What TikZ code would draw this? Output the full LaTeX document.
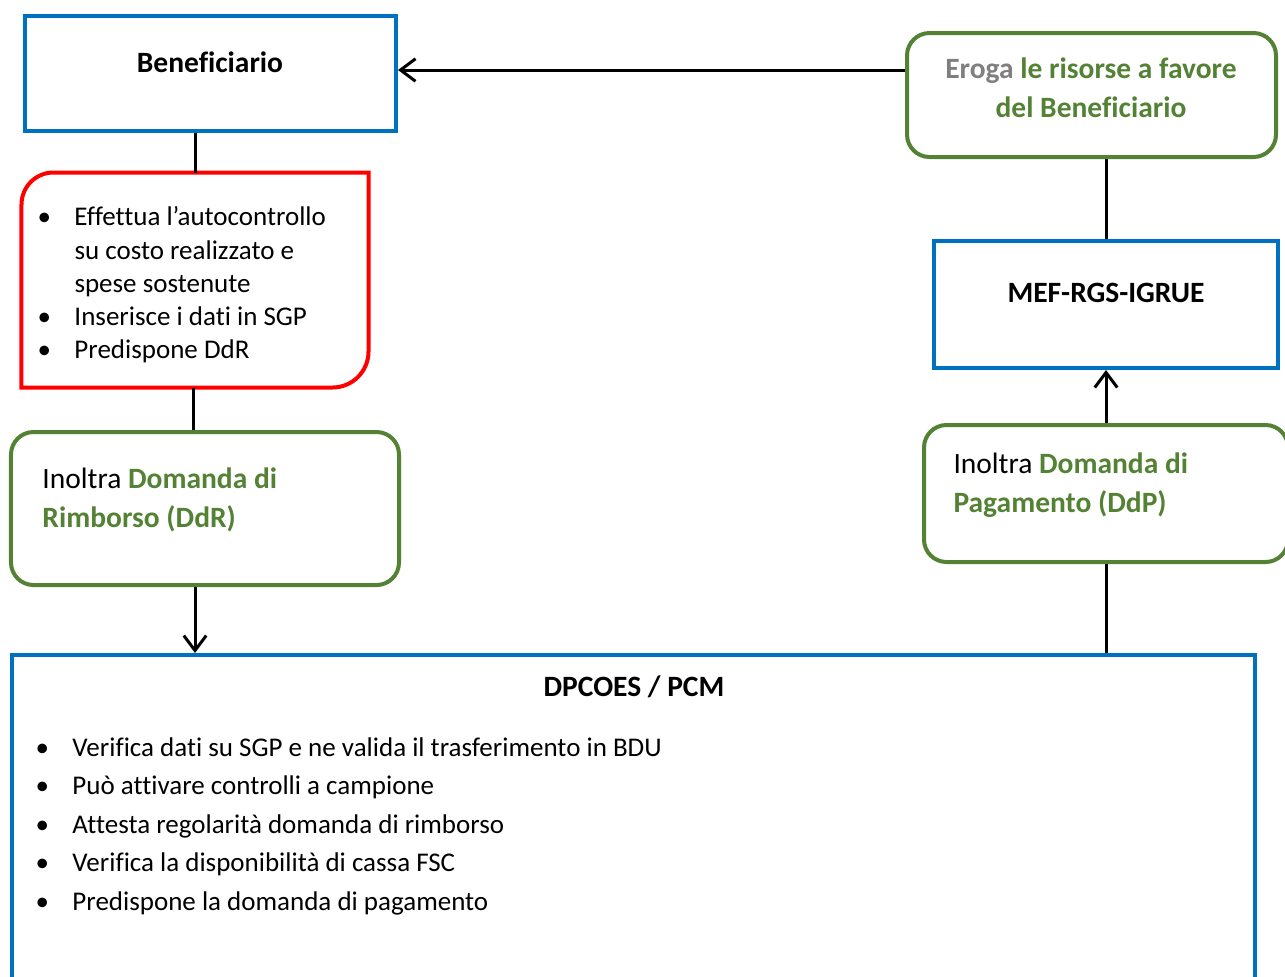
\documentclass[tikz,border=0pt]{standalone}
\usepackage{fontspec}
\setmainfont{Carlito}[Ligatures=CommonOff]
\usetikzlibrary{arrows.meta,calc}
\definecolor{bblue}{HTML}{0070C0}
\definecolor{bgreen}{HTML}{548235}
\definecolor{bred}{HTML}{FF0000}
\definecolor{bgray}{HTML}{7F7F7F}
\newcommand\bitem[2]{\makebox[#1][l]{\textbullet}#2}
\begin{document}
\begin{tikzpicture}[x=0.4pt,y=-0.4pt,
  bluebox/.style={draw=bblue, line width=1.6pt, inner sep=0pt},
  greenbox/.style={draw=bgreen, line width=1.6pt, rounded corners=9pt, inner sep=0pt},
  plain/.style={inner sep=0pt, font=\fontsize{10.8}{13.3}\selectfont},
  big/.style={inner sep=0pt, font=\fontsize{11.8}{15.4}\selectfont},
  title/.style={inner sep=0pt, font=\fontsize{11.8}{14}\selectfont\bfseries},
  conn/.style={line width=1.2pt, black},
  arr/.style={conn, -{Straight Barb[length=6pt,width=9pt,line width=1.2pt]}}
]
\useasboundingbox (0,0) rectangle (1285,976);
\clip (0,0) rectangle (1285,976);

% boxes
\node[bluebox, minimum width=148.4pt, minimum height=46pt] (benef) at (210.5,73.5) {};
\node[greenbox, minimum width=147.6pt, minimum height=49.6pt] (eroga) at (1091.5,95) {};
\node[inner sep=0pt, minimum width=138.4pt, minimum height=85.6pt] (ctrl) at (195,280) {};
\draw[bred, line width=1.6pt]
  (ctrl.south west) -- ($(ctrl.north west)+(0,32)$)
  .. controls +(0,-17.7) and +(-17.7,0) .. ($(ctrl.north west)+(32,0)$)
  -- (ctrl.north east) -- ($(ctrl.south east)+(0,-36)$)
  .. controls +(0,19.9) and +(19.9,0) .. ($(ctrl.south east)+(-36,0)$)
  -- cycle;
\node[greenbox, minimum width=155.2pt, minimum height=61.2pt] (ddr) at (205,508.5) {};
\node[bluebox, minimum width=497.2pt, minimum height=178pt] (dpc) at (633.5,877.5) {};
\node[greenbox, minimum width=145.6pt, minimum height=54.8pt] (ddp) at (1106,493.5) {};
\node[bluebox, minimum width=137.6pt, minimum height=50.8pt] (mef) at (1106,304.5) {};

% texts
\node[title] (tbenef) at (210,62) {Beneficiario};
\node[big, align=center, font=\fontsize{11.8}{15.6}\selectfont\bfseries] (teroga) at (1091,88)
  {\textcolor{bgray}{Eroga} \textcolor{bgreen}{le risorse a favore}\\ \textcolor{bgreen}{del Beneficiario}};
\node[plain, anchor=west, align=left] (tctrl) at (37,285)
  {\bitem{14.8pt}{Effettua l’autocontrollo}\\
   \hspace*{14.8pt}su costo realizzato e\\
   \hspace*{14.8pt}spese sostenute\\
   \bitem{14.8pt}{Inserisce i dati in SGP}\\
   \bitem{14.8pt}{Predispone DdR}};
\node[big, anchor=west, align=left] (tddr) at (42,500)
  {Inoltra \textcolor{bgreen}{\bfseries Domanda di}\\ \textcolor{bgreen}{\bfseries Rimborso (DdR)}};
\node[big, anchor=west, align=left, font=\fontsize{11.8}{15.6}\selectfont] (tddp) at (953,485)
  {Inoltra \textcolor{bgreen}{\bfseries Domanda di}\\ \textcolor{bgreen}{\bfseries Pagamento (DdP)}};
\node[title] (tmef) at (1106,293) {MEF-RGS-IGRUE};
\node[title] (tdpc) at (634,687) {DPCOES / PCM};
\node[plain, anchor=west, align=left, font=\fontsize{10.8}{15.4}\selectfont] (tdpcl) at (35,826)
  {\bitem{14.8pt}{Verifica dati su SGP e ne valida il trasferimento in BDU}\\
   \bitem{14.8pt}{Può attivare controlli a campione}\\
   \bitem{14.8pt}{Attesta regolarità domanda di rimborso}\\
   \bitem{14.8pt}{Verifica la disponibilità di cassa FSC}\\
   \bitem{14.8pt}{Predispone la domanda di pagamento}};

% connectors
\draw[arr] ([yshift=1.4pt]eroga.west |- benef.east) -- ([yshift=1.4pt]benef.east);
\draw[conn] (ctrl.north |- benef.south) -- (ctrl.north);
\draw[conn] ([xshift=-0.8pt]ctrl.south) -- ([xshift=-0.8pt]ctrl.south |- ddr.north);
\draw[arr] (ctrl.south |- ddr.south) -- (ctrl.south |- dpc.north);
\draw[conn] (ddp.south) -- (ddp.south |- dpc.north);
\draw[arr] (ddp.north) -- (mef.south);
\draw[conn] (mef.north) -- (mef.north |- eroga.south);
\end{tikzpicture}
\end{document}
